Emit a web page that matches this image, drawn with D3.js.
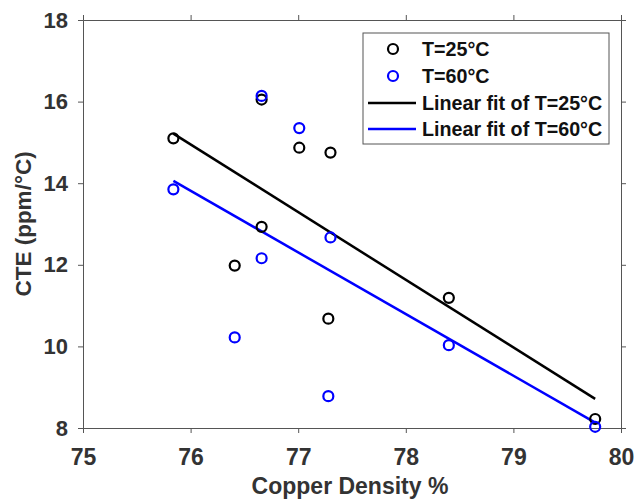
<!DOCTYPE html>
<html><head><meta charset="utf-8">
<script src="https://cdn.jsdelivr.net/npm/d3@7"></script>
<style>body{margin:0;background:#fff}</style>
</head><body>
<svg id="c" width="634" height="500"></svg>
<script>
const density = [75.84, 76.66, 76.66, 76.41, 77.01, 77.30, 77.28, 78.40, 79.76];
const cte25 = [15.10, 16.05, 12.93, 11.98, 14.87, 14.75, 10.68, 11.19, 8.22];
const cte60 = [13.85, 16.14, 12.16, 10.22, 15.35, 12.67, 8.78, 10.03, 8.03];
const xTicks = [75, 76, 77, 78, 79, 80];
const yTicks = [8, 10, 12, 14, 16, 18];
const seriesNames = ["T=25°C", "T=60°C"];
const fitNames = ["Linear fit of T=25°C", "Linear fit of T=60°C"];
const colors = ["#000000", "#0000ff"];

const svg = d3.select("#c");
const L = 83, R = 621, T = 20, B = 428;
const x = d3.scaleLinear().domain([75, 80]).range([L, R]);
const y = d3.scaleLinear().domain([8, 18]).range([B, T]);
const axisColor = "#555";
const font = "'Liberation Sans', Arial, sans-serif";

function fit(xs, ys) {
  const mx = d3.mean(xs), my = d3.mean(ys);
  let sxy = 0, sxx = 0;
  xs.forEach((v, i) => { sxy += (v - mx) * (ys[i] - my); sxx += (v - mx) ** 2; });
  const b = sxy / sxx, a = my - b * mx;
  const x0 = d3.min(xs), x1 = d3.max(xs);
  return [[x0, a + b * x0], [x1, a + b * x1]];
}

function styleAxis(size) {
  return g => {
    g.selectAll("path").attr("stroke", axisColor).attr("stroke-width", 1);
    g.selectAll("line").attr("stroke", axisColor).attr("stroke-width", 1);
    g.selectAll("text").attr("font-family", font).attr("font-size", size).attr("font-weight", "bold").attr("fill", "#333");
  };
}

svg.append("g").attr("transform", `translate(0,${B})`)
  .call(d3.axisBottom(x).tickValues(xTicks).tickSize(5).tickPadding(16).tickFormat(d3.format("d"))).call(styleAxis(23));
svg.append("g").attr("transform", `translate(0,${T})`)
  .call(d3.axisTop(x).tickValues(xTicks).tickSize(5).tickFormat("")).call(styleAxis(22));
svg.append("g").attr("transform", `translate(${L},0)`)
  .call(d3.axisLeft(y).tickValues(yTicks).tickSize(5).tickPadding(10).tickFormat(d3.format("d"))).call(styleAxis(22));
svg.append("g").attr("transform", `translate(${R},0)`)
  .call(d3.axisRight(y).tickValues(yTicks).tickSize(5).tickFormat("")).call(styleAxis(22));

// fit lines
const line = d3.line().x(d => x(d[0])).y(d => y(d[1]));
[cte25, cte60].forEach((ys, i) => {
  svg.append("path").attr("d", line(fit(density, ys))).attr("fill", "none")
    .attr("stroke", colors[i]).attr("stroke-width", 2.5);
});

// points
[cte25, cte60].forEach((ys, i) => {
  svg.append("g").selectAll("circle").data(density).join("circle")
    .attr("cx", d => x(d)).attr("cy", (d, j) => y(ys[j])).attr("r", 5)
    .attr("fill", "none").attr("stroke", colors[i]).attr("stroke-width", 2.2);
});

// axis titles
svg.append("text").attr("x", 350).attr("y", 494).attr("text-anchor", "middle")
  .attr("font-family", font).attr("font-size", 23).attr("font-weight", "bold").attr("fill", "#333")
  .text("Copper Density %");
svg.append("text").attr("transform", `translate(31,${(T + B) / 2}) rotate(-90)`).attr("text-anchor", "middle")
  .attr("font-family", font).attr("font-size", 22.5).attr("font-weight", "bold").attr("fill", "#333")
  .text("CTE (ppm/°C)");

// legend
const lg = svg.append("g");
lg.append("rect").attr("x", 363).attr("y", 33).attr("width", 246).attr("height", 111)
  .attr("fill", "#fff").attr("stroke", "#555").attr("stroke-width", 1);
const rows = [49, 76, 103, 129];
seriesNames.forEach((n, i) => {
  lg.append("circle").attr("cx", 393).attr("cy", rows[i]).attr("r", 5).attr("fill", "none")
    .attr("stroke", colors[i]).attr("stroke-width", 2.2);
  lg.append("text").attr("x", 422).attr("y", rows[i]).attr("dy", "0.35em")
    .attr("font-family", font).attr("font-size", 19.7).attr("font-weight", "bold").attr("fill", "#111").text(n);
});
fitNames.forEach((n, i) => {
  lg.append("line").attr("x1", 368).attr("x2", 416).attr("y1", rows[i + 2]).attr("y2", rows[i + 2])
    .attr("stroke", colors[i]).attr("stroke-width", 2.5);
  lg.append("text").attr("x", 422).attr("y", rows[i + 2]).attr("dy", "0.35em")
    .attr("font-family", font).attr("font-size", 19.7).attr("font-weight", "bold").attr("fill", "#111").text(n);
});
</script>
</body></html>
